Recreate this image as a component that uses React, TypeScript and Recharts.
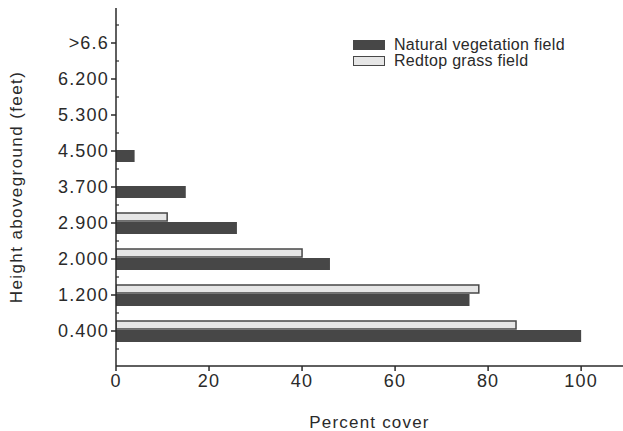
import { BarChart, Bar, XAxis, YAxis } from "recharts";

// categories listed from top of chart to bottom
const heights = [">6.6", "6.200", "5.300", "4.500", "3.700", "2.900", "2.000", "1.200", "0.400"];
const naturalCover = [0, 0, 0, 4, 15, 26, 46, 76, 100];
const redtopCover = [0, 0, 0, 0, 0, 11, 40, 78, 86];
const xTicks = [0, 20, 40, 60, 80, 100];

const data = heights.map((h, i) => ({
  height: h,
  natural: naturalCover[i],
  redtop: redtopCover[i],
}));

const DARK = "#474747";
const LIGHT = "#e6e6e6";
const TEXT = "#2a2a2a";
const FONT = "'Liberation Sans', Arial, sans-serif";
const AXIS_X = 116;

function LegendBox() {
  const rows = [
    { label: "Natural vegetation field", fill: DARK },
    { label: "Redtop grass field", fill: LIGHT },
  ];
  return (
    <div
      style={{
        position: "absolute",
        left: 353,
        top: 37,
        fontFamily: FONT,
        fontSize: 16,
        letterSpacing: 0.3,
        color: TEXT,
        lineHeight: "16px",
      }}
    >
      {rows.map((r) => (
        <div key={r.label} style={{ display: "flex", alignItems: "center" }}>
          <span
            style={{
              display: "inline-block",
              width: 30,
              height: 8,
              background: r.fill,
              border: `1.5px solid ${DARK}`,
              marginRight: 9,
            }}
          />
          {r.label}
        </div>
      ))}
    </div>
  );
}

// height label plus small inward marks on the band edges
function HeightTick(props: any) {
  const { x, y, payload, index } = props;
  const half = payload?.offset ?? 18;
  const last = index === heights.length - 1;
  return (
    <g>
      <text
        x={x}
        y={y}
        dy="0.36em"
        textAnchor="end"
        fill={TEXT}
        fontSize={18}
        style={{ letterSpacing: 1.2 }}
      >
        {payload.value}
      </text>
      <line x1={AXIS_X} x2={AXIS_X + 3} y1={y - half} y2={y - half} stroke={TEXT} strokeWidth={1.2} />
      {last && (
        <line x1={AXIS_X} x2={AXIS_X + 3} y1={y + half} y2={y + half} stroke={TEXT} strokeWidth={1.2} />
      )}
    </g>
  );
}

export default function App() {
  const tickStyle = { fill: TEXT, fontSize: 18, letterSpacing: 1.2 };
  return (
    <div style={{ position: "absolute", left: 0, top: 0, width: 623, height: 431, background: "#fff" }}>
      <BarChart
        width={623}
        height={431}
        data={data}
        layout="vertical"
        margin={{ top: 8, right: 0, left: 0, bottom: 0 }}
        barGap={1}
        style={{ fontFamily: FONT }}
      >
        <XAxis
          type="number"
          domain={[0, 109]}
          ticks={xTicks}
          allowDataOverflow
          height={65}
          stroke={TEXT}
          strokeWidth={1.5}
          tickSize={5}
          tickMargin={3}
          tick={tickStyle}
          label={{
            value: "Percent cover",
            position: "insideBottom",
            offset: 3,
            fill: TEXT,
            fontSize: 17,
            style: { letterSpacing: 1.2 },
          }}
        />
        <XAxis
          xAxisId="top"
          type="number"
          orientation="top"
          domain={[0, 109]}
          height={0}
          tick={false}
          tickLine={false}
          stroke={TEXT}
          strokeWidth={1.5}
        />
        <YAxis
          type="category"
          dataKey="height"
          width={AXIS_X}
          padding={{ top: 17, bottom: 17 }}
          stroke={TEXT}
          strokeWidth={1.5}
          tickSize={5}
          tickMargin={2}
          tick={<HeightTick />}
          label={{
            value: "Height aboveground (feet)",
            angle: -90,
            position: "insideLeft",
            offset: 16,
            fill: TEXT,
            fontSize: 17,
            style: { textAnchor: "middle", letterSpacing: 1.4 },
          }}
        />
        <Bar dataKey="redtop" barSize={8} fill={LIGHT} stroke={DARK} strokeWidth={1.5} isAnimationActive={false} />
        <Bar dataKey="natural" barSize={12} fill={DARK} isAnimationActive={false} />
      </BarChart>
      <LegendBox />
    </div>
  );
}
